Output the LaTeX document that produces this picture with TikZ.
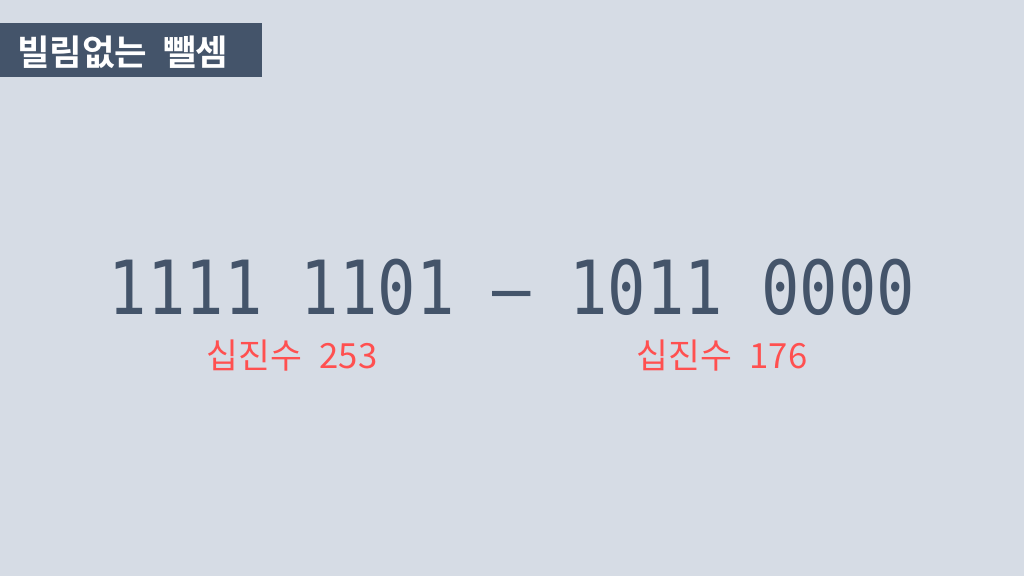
\documentclass[tikz,border=0pt]{standalone}
\usepackage{fontspec}
\newfontfamily\krfont{Noto Sans CJK KR}
\newfontfamily\krbold{Noto Sans CJK KR Bold}
\newfontfamily\monofont[FakeStretch=0.854]{DejaVu Sans Mono}
\definecolor{bgc}{HTML}{D6DCE5}
\definecolor{slate}{HTML}{44546A}
\definecolor{redc}{HTML}{FF5050}
\tikzset{
  binary/.style={inner sep=0pt, text=slate, font=\monofont\fontsize{56}{58}\selectfont, anchor=base},
  declabel/.style={inner sep=0pt, text=redc, font=\krfont\fontsize{26}{28}\selectfont, anchor=base},
  titlebox/.style={fill=slate, draw=none},
  titletext/.style={inner sep=0pt, text=white, font=\krbold\fontsize{26.5}{28}\selectfont, anchor=base west}
}
\begin{document}
\begin{tikzpicture}[x=0.75pt,y=0.75pt]
\useasboundingbox (0,0) rectangle (1024,576);
\fill[bgc] (0,0) rectangle (1024,576);
\fill[titlebox] (0,499) rectangle (262,553);
\node[titletext] (title) at (17,510) {빌림없는\hspace{0.45em}뺄셈};
\node[binary] (expr) at (512,262) {1111 1101 – 1011 0000};
\node[declabel] (d1) at (292,208) {십진수\hspace{0.5em}253};
\node[declabel] (d2) at (722,208) {십진수\hspace{0.5em}176};
\end{tikzpicture}
\end{document}
